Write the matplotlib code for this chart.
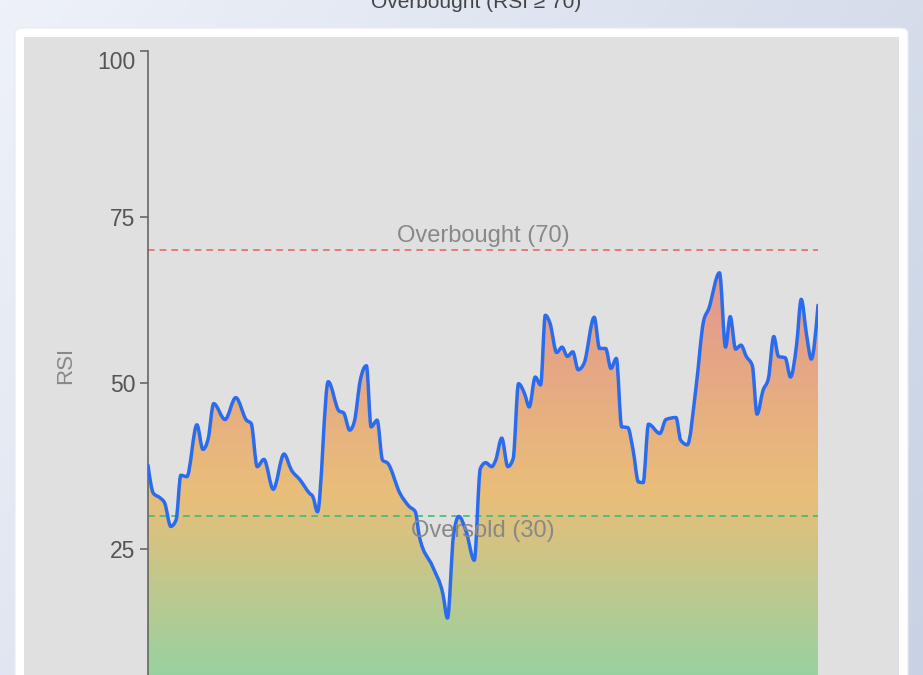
import numpy as np
import matplotlib
matplotlib.use("Agg")
import matplotlib.pyplot as plt
from matplotlib.path import Path
from matplotlib.patches import PathPatch, Rectangle, FancyBboxPatch
from matplotlib.colors import LinearSegmentedColormap

plt.rcParams['font.family'] = ['Liberation Sans', 'DejaVu Sans']

# RSI trace (day index, value)
days = [0.0, 0.8, 1.8, 2.5, 3.4, 4.2, 4.9, 5.8, 7.3, 8.2, 9.0, 9.8, 11.5, 13.1,
        14.7, 15.4, 16.3, 17.3, 18.7, 20.3, 21.4, 22.7, 24.1, 24.6, 25.3, 26.9,
        28.5, 29.2, 30.1, 30.8, 31.7, 32.6, 33.3, 34.2, 35.0, 35.8, 37.6, 39.0,
        39.9, 40.5, 42.5, 44.0, 44.7, 45.6, 46.4, 47.5, 48.7, 49.6, 50.4, 51.3,
        51.9, 52.8, 53.7, 54.5, 55.3, 56.2, 56.9, 57.8, 58.6, 59.3, 60.0, 61.0,
        61.8, 62.6, 63.4, 64.2, 65.1, 66.6, 67.4, 68.3, 69.1, 69.9, 70.7, 71.6,
        72.4, 73.2, 73.9, 74.7, 76.4, 77.3, 78.8, 79.5, 80.5, 81.8, 82.9, 83.7,
        85.3, 86.2, 86.9, 87.7, 88.5, 89.3, 90.2, 90.9, 91.8, 92.6, 93.4, 94.1,
        95.1, 95.9, 96.8, 97.5, 98.3, 99.0, 100.0]
rsi = [37.6, 33.4, 32.7, 31.9, 28.4, 29.4, 36.1, 35.9, 43.7, 40.0, 41.7, 46.9,
       44.5, 47.8, 44.4, 43.9, 37.4, 38.5, 34.0, 39.3, 36.9, 35.4, 33.4, 32.9,
       30.6, 50.2, 45.8, 45.5, 42.9, 44.2, 50.5, 52.6, 43.4, 44.4, 38.4, 37.9,
       33.4, 31.4, 30.6, 26.9, 22.3, 18.3, 14.6, 27.1, 29.9, 27.6, 23.3, 37.1,
       38.0, 37.4, 38.4, 41.7, 37.4, 38.6, 49.9, 48.4, 46.4, 50.9, 49.7, 60.2,
       59.0, 54.6, 55.4, 54.0, 54.7, 52.0, 53.0, 59.9, 55.2, 55.2, 52.2, 53.7,
       43.4, 43.3, 39.9, 35.1, 35.0, 43.8, 42.4, 44.5, 44.8, 41.4, 40.7, 49.4,
       59.2, 61.2, 66.6, 55.4, 60.0, 55.1, 55.7, 54.0, 52.6, 45.3, 48.9, 50.7,
       57.0, 54.0, 53.8, 50.9, 55.7, 62.6, 57.2, 53.6, 61.7]

overbought = 70
oversold = 30
yticks = [25, 50, 75, 100]


def monotone_path(x, y):
    # monotone cubic (like d3.curveMonotoneX) as bezier path
    x = np.asarray(x, float)
    y = np.asarray(y, float)
    h = np.diff(x)
    s = np.diff(y) / h
    n = len(x)
    m = np.zeros(n)
    for i in range(1, n - 1):
        p = (s[i - 1] * h[i] + s[i] * h[i - 1]) / (h[i - 1] + h[i])
        m[i] = (np.sign(s[i - 1]) + np.sign(s[i])) * min(abs(s[i - 1]), abs(s[i]), 0.5 * abs(p))
    m[0] = (3 * s[0] - m[1]) / 2
    m[-1] = (3 * s[-1] - m[-2]) / 2
    verts = [(x[0], y[0])]
    codes = [Path.MOVETO]
    for i in range(n - 1):
        d = h[i] / 3
        verts += [(x[i] + d, y[i] + m[i] * d), (x[i + 1] - d, y[i + 1] - m[i + 1] * d), (x[i + 1], y[i + 1])]
        codes += [Path.CURVE4] * 3
    return verts, codes


fig = plt.figure(figsize=(9.23, 6.75), dpi=100)

# page background
bg = fig.add_axes([0, 0, 1, 1], zorder=-10)
gx, gy = np.meshgrid(np.linspace(0, 1, 200), np.linspace(0, 1, 200))
bg_cmap = LinearSegmentedColormap.from_list('bg', ['#eef2f8', '#c8d2e4'])
bg.imshow(0.65 * gx + 0.35 * gy, cmap=bg_cmap, aspect='auto', extent=[0, 1, 1, 0])
bg.set_axis_off()

W, H = 923, 675
card = FancyBboxPatch((15 / W, -0.1), 893 / W, (H - 28) / H + 0.1,
                      boxstyle='round,pad=0,rounding_size=0.008',
                      transform=fig.transFigure, facecolor='white', edgecolor='#e6eaf0',
                      lw=0.8, zorder=-5)
fig.patches.append(card)
panel = Rectangle((24 / W, -0.1), 875 / W, (H - 37) / H + 0.1, transform=fig.transFigure,
                  facecolor='#e0e0e0', edgecolor='none', zorder=-4)
fig.patches.append(panel)

fig.text(476 / W, 1 - 8 / H, 'Overbought (RSI \u2265 70)', ha='center', va='baseline',
         fontsize=15, color='#444444')

ax = fig.add_axes([148 / W, (H - 715) / H, 670 / W, 664 / H])
ax.set_facecolor('none')
ax.set_xlim(0, 100)
ax.set_ylim(0, 100)

verts, codes = monotone_path(days, rsi)

# gradient fill under the curve
fill_verts = verts + [(days[-1], 0), (days[0], 0), (days[0], rsi[0])]
fill_codes = codes + [Path.LINETO, Path.LINETO, Path.CLOSEPOLY]
clip = PathPatch(Path(fill_verts, fill_codes), transform=ax.transData,
                 facecolor='none', edgecolor='none')
ax.add_patch(clip)
top = max(rsi)
grad_cmap = LinearSegmentedColormap.from_list('rsi', ['#87d6a8', '#e9be79', '#e3968e'])
grad = np.linspace(0, 1, 256).reshape(-1, 1)
im = ax.imshow(grad, cmap=grad_cmap, aspect='auto', origin='lower',
               extent=[days[0], days[-1], 0, top], zorder=1)
im.set_clip_path(clip)

ax.add_patch(PathPatch(Path(verts, codes), facecolor='none', edgecolor='#2b6cee',
                       lw=2.5, zorder=3, capstyle='round', joinstyle='round'))

ax.axhline(overbought, color='#e86a6a', lw=1.2, ls=(0, (4, 3)), zorder=2)
ax.axhline(oversold, color='#3dbb7a', lw=1.2, ls=(0, (4, 3)), zorder=2)
ax.text(50, overbought + 0.5, 'Overbought (70)', ha='center', va='bottom',
        fontsize=17, color='#888888', zorder=4)
ax.text(50, oversold - 0.6, 'Oversold (30)', ha='center', va='top',
        fontsize=17, color='#888888', zorder=4)

for side in ['top', 'right', 'bottom']:
    ax.spines[side].set_visible(False)
ax.spines['left'].set_color('#666666')
ax.spines['left'].set_linewidth(1.2)
ax.set_xticks([])
ax.set_yticks(yticks)
ax.set_yticklabels([str(t) for t in yticks])
ax.tick_params(axis='y', length=6, width=1.2, color='#666666', labelcolor='#555555',
               labelsize=16.5, pad=3)
for lab in ax.get_yticklabels():
    if lab.get_text() == '100':
        lab.set_va('top')

fig.text(66 / W, 1 - 365 / H, 'RSI', rotation=90, ha='center', va='center',
         fontsize=16, color='#888888')

fig.savefig('out.png', dpi=100)
